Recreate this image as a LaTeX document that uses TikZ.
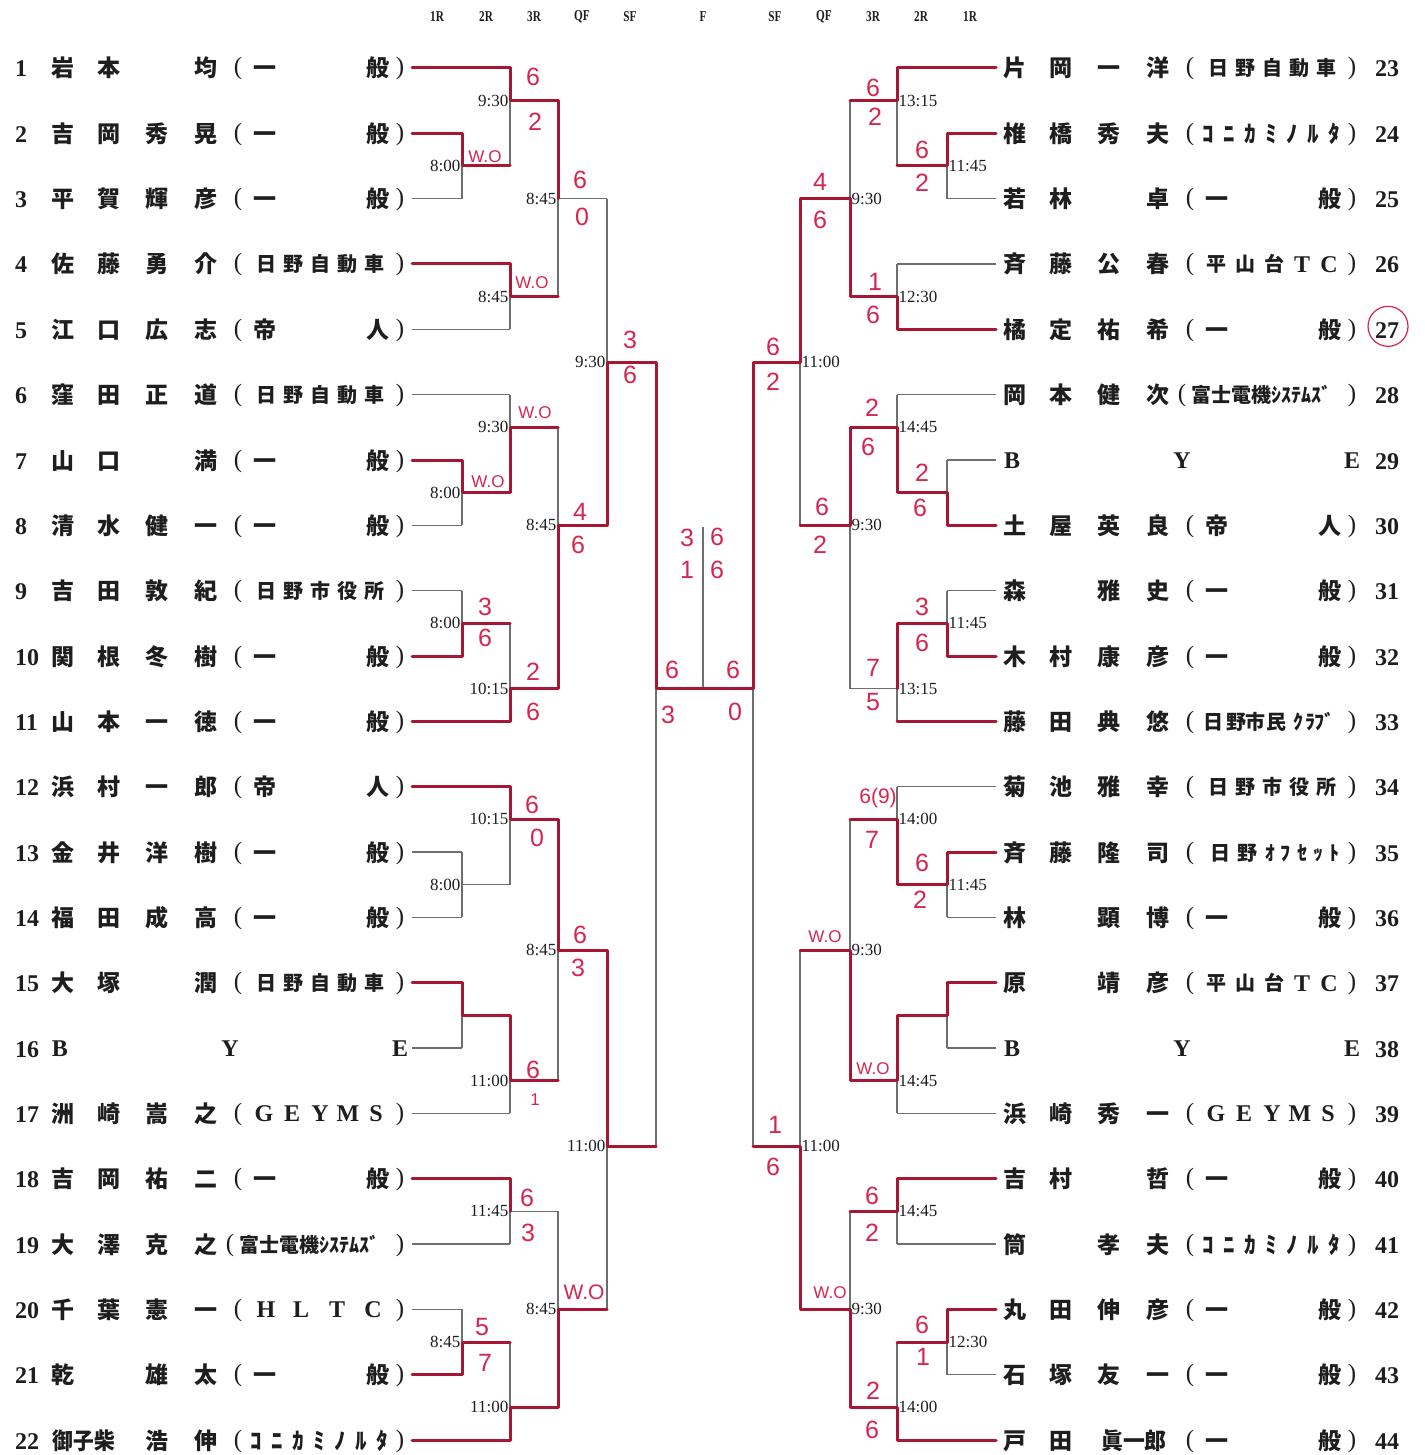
\documentclass[tikz,border=0pt]{standalone}
\usepackage{fontspec}
\usepackage{graphicx}
\setmainfont{Liberation Serif}
\newfontfamily\cjk{Noto Sans CJK JP}
\newfontfamily\handf{Liberation Sans}
\definecolor{rline}{RGB}{168,22,52}
\definecolor{rink}{RGB}{214,38,80}
\definecolor{gline}{RGB}{110,110,110}
\definecolor{ink}{RGB}{30,30,30}
\newcommand\Y[1]{(68+65.333*((#1)-1))}
\newcommand\fs[1]{\fontsize{#1}{#1}\selectfont}
\def\R{952}
\def\qA{63}\def\qB{109}\def\qC{157}\def\qD{206}
\tikzset{
  gl/.style={draw=gline,line width=1.2pt},
  rl/.style={draw=rline,line width=3pt,line join=round,line cap=round},
  cj/.style={font=\cjk\bfseries\fs{23},text=ink,anchor=base,inner sep=0pt},
  cjs/.style={font=\cjk\bfseries\fs{20},text=ink,anchor=base,inner sep=0pt},
  par/.style={font=\fs{25},text=ink,anchor=base,inner sep=0pt},
  lat/.style={font=\bfseries\fs{24},text=ink,anchor=base,inner sep=0pt},
  num/.style={font=\bfseries\fs{24},text=ink,anchor=base west,inner sep=0pt},
  tm/.style={font=\fs{17},text=ink,inner sep=1.5pt},
  hd/.style={font=\bfseries\fs{15},text=ink,inner sep=0pt},
  hw/.style={font=\handf\fs{25},text=rink,inner sep=0pt},
  hwm/.style={font=\handf\fs{21},text=rink,inner sep=0pt},
  hws/.style={font=\handf\fs{17},text=rink,inner sep=0pt},
}
% a match: name, x, top row, bottom row, output row, next x
\newcommand\mt[6]{%
  \coordinate (#1t) at (#2,{\Y{#3}});
  \coordinate (#1b) at (#2,{\Y{#4}});
  \coordinate (#1o) at (#2,{\Y{#5}});
  \coordinate (#1n) at (#6,{\Y{#5}});
  \draw[gl] (#1t) -- (#1b) (#1o) -- (#1n);}
% text pieces: id, baseline y, style, list x/char
\newcommand\tx[4]{\foreach \xx/\ch [count=\ii] in {#4}{\node[#3] (#1-\ii) at ({\xx},{#2}) {\ch};}}
\newcommand\pp[3]{\tx{#1p}{\Y{#2}+7}{par}{238+#3/(,400+#3/)}}
\newcommand\aG[3]{\pp{#1}{#2}{#3}\tx{#1a}{\Y{#2}+9}{cj}{265+#3/一,378+#3/般}}
\newcommand\aT[3]{\pp{#1}{#2}{#3}\tx{#1a}{\Y{#2}+9}{cj}{265+#3/帝,378+#3/人}}
\newcommand\aV[8]{\pp{#1}{#2}{#3}\tx{#1a}{\Y{#2}+8}{cjs}{266+#3/#4,293+#3/#5,320+#3/#6,347+#3/#7,374+#3/#8}}
\newcommand\aGE[3]{\pp{#1}{#2}{#3}\tx{#1a}{\Y{#2}+8.5}{lat}{264+#3/G,292+#3/E,320+#3/Y,348+#3/M,376+#3/S}}
\newcommand\aHL[3]{\pp{#1}{#2}{#3}\tx{#1a}{\Y{#2}+8.5}{lat}{266+#3/H,301+#3/L,337+#3/T,373+#3/C}}
\newcommand\aKo[3]{\pp{#1}{#2}{#3}\tx{#1a}{\Y{#2}+9}{cj}{256+#3/ｺ,277+#3/ﾆ,298+#3/ｶ,319+#3/ﾐ,340+#3/ﾉ,361+#3/ﾙ,382+#3/ﾀ}}
\newcommand\aFu[3]{\tx{#1p}{\Y{#2}+7}{par}{230+#3/(,400+#3/)}%
  \node[cjs,anchor=base west,font=\cjk\bfseries\fs{20}] (#1a) at ({239+#3},{\Y{#2}+8}) {富士電機ｼｽﾃﾑｽﾞ};}
\newcommand\aHT[3]{\pp{#1}{#2}{#3}\tx{#1a}{\Y{#2}+8}{cjs}{264+#3/平,293+#3/山,322+#3/台}\tx{#1b}{\Y{#2}+8.5}{lat}{350+#3/T,377+#3/C}}
\newcommand\bye[3]{\tx{#1}{\Y{#2}+8.5}{lat}{60+#3/B,230+#3/Y,400+#3/E}}
\newcommand\tl[2]{\node[tm,anchor=east] (t#1) at (#1o) {#2};}
\newcommand\tr[2]{\node[tm,anchor=west] (t#1) at (#1o) {#2};}
\begin{document}
\begin{tikzpicture}[x=1pt,y=-1pt]
\fill[white] (0,0) rectangle (1424,1455);
\useasboundingbox (0,0) rectangle (1424,1455);
\foreach \k in {1,...,22}{\coordinate (L\k) at (412,{\Y{\k}}); \coordinate (R\k) at (996,{\Y{\k}});}
% ---------- left bracket
\mt{M1}{462}{2}{3}{2.5}{510}
\mt{M2}{510}{1}{2.5}{1.5}{558}
\mt{M3}{510}{4}{5}{4.5}{558}
\mt{M4}{558}{1.5}{4.5}{3}{607}
\mt{M5}{462}{7}{8}{7.5}{510}
\mt{M6}{510}{6}{7.5}{6.5}{558}
\mt{M7}{462}{9}{10}{9.5}{510}
\mt{M8}{510}{9.5}{11}{10.5}{558}
\mt{M9}{558}{6.5}{10.5}{8}{607}
\mt{M10}{607}{3}{8}{5.5}{656}
\mt{M11}{462}{13}{14}{13.5}{510}
\mt{M12}{510}{12}{13.5}{12.5}{558}
\mt{M13}{462}{15}{16}{15.5}{510}
\mt{M14}{510}{15.5}{17}{16.5}{558}
\mt{M15}{558}{12.5}{16.5}{14.5}{607}
\mt{M16}{510}{18}{19}{18.5}{558}
\mt{M17}{462}{20}{21}{20.5}{510}
\mt{M18}{510}{20.5}{22}{21.5}{558}
\mt{M19}{558}{18.5}{21.5}{20}{607}
\mt{M20}{607}{14.5}{20}{17.5}{656}
\mt{M21}{656}{5.5}{17.5}{10.5}{703}
% ---------- right bracket
\mt{N1}{947}{2}{3}{2.5}{897}
\mt{N2}{897}{1}{2.5}{1.5}{850}
\mt{N3}{897}{4}{5}{4.5}{850}
\mt{N4}{850}{1.5}{4.5}{3}{800}
\mt{N5}{947}{7}{8}{7.5}{897}
\mt{N6}{897}{6}{7.5}{6.5}{850}
\mt{N7}{947}{9}{10}{9.5}{897}
\mt{N8}{897}{9.5}{11}{10.5}{850}
\mt{N9}{850}{6.5}{10.5}{8}{800}
\mt{N10}{800}{3}{8}{5.5}{753}
\mt{N11}{947}{13}{14}{13.5}{897}
\mt{N12}{897}{12}{13.5}{12.5}{850}
\mt{N13}{947}{15}{16}{15.5}{897}
\mt{N14}{897}{15.5}{17}{16.5}{850}
\mt{N15}{850}{12.5}{16.5}{14.5}{800}
\mt{N16}{897}{18}{19}{18.5}{850}
\mt{N17}{947}{20}{21}{20.5}{897}
\mt{N18}{897}{20.5}{22}{21.5}{850}
\mt{N19}{850}{18.5}{21.5}{20}{800}
\mt{N20}{800}{14.5}{20}{17.5}{753}
\mt{N21}{753}{5.5}{17.5}{10.5}{703}
\coordinate (Ft) at (703,527);
\draw[gl] (Ft) -- (M21n);
% ---------- entry lines
\draw[gl] (L1)--(M2t) (L2)--(M1t) (L3)--(M1b) (L4)--(M3t) (L5)--(M3b) (L6)--(M6t)
  (L7)--(M5t) (L8)--(M5b) (L9)--(M7t) (L10)--(M7b) (L11)--(M8b) (L12)--(M12t)
  (L13)--(M11t) (L14)--(M11b) (L15)--(M13t) (L16)--(M13b) (L17)--(M14b) (L18)--(M16t)
  (L19)--(M16b) (L20)--(M17t) (L21)--(M17b) (L22)--(M18b);
\draw[gl] (R1)--(N2t) (R2)--(N1t) (R3)--(N1b) (R4)--(N3t) (R5)--(N3b) (R6)--(N6t)
  (R7)--(N5t) (R8)--(N5b) (R9)--(N7t) (R10)--(N7b) (R11)--(N8b) (R12)--(N12t)
  (R13)--(N11t) (R14)--(N11b) (R15)--(N13t) (R16)--(N13b) (R17)--(N14b) (R18)--(N16t)
  (R19)--(N16b) (R20)--(N17t) (R21)--(N17b) (R22)--(N18b);
% ---------- winners (red)
\draw[rl] (L1) -- (M2t) -- (M2o) -- (M4t) -- (M4o);
\draw[rl] (L2) -- (M1t) -- (M1o) -- (M1n);
\draw[rl] (L4) -- (M3t) -- (M3o) -- (M3n);
\draw[rl] (L7) -- (M5t) -- (M5o) -- (M5n) -- (M6o) -- (M6n);
\draw[rl] (L10) -- (M7b) -- (M7o) -- (M7n);
\draw[rl] (L11) -- (M8b) -- (M8o) -- (M8n) -- (M9o) -- (M9n) -- (M10o) -- (M10n) -- (M21o) -- (M21n);
\draw[rl] (L12) -- (M12t) -- (M12o) -- (M12n) -- (M15o) -- (M15n) -- (M20o) -- (M20n);
\draw[rl] (L15) -- (M13t) -- (M13o) -- (M13n) -- (M14o) -- (M14n);
\draw[rl] (L18) -- (M16t) -- (M16o);
\draw[rl] (L21) -- (M17b) -- (M17o) -- (M17n);
\draw[rl] (L22) -- (M18b) -- (M18o) -- (M18n) -- (M19o) -- (M19n);
\draw[rl] (R1) -- (N2t) -- (N2o) -- (N2n);
\draw[rl] (R2) -- (N1t) -- (N1o) -- (N1n);
\draw[rl] (R5) -- (N3b) -- (N3o) -- (N3n) -- (N4o) -- (N4n) -- (N10o) -- (N10n) -- (N21o) -- (N21n);
\draw[rl] (R8) -- (N5b) -- (N5o) -- (N5n) -- (N6o) -- (N6n) -- (N9o) -- (N9n);
\draw[rl] (R10) -- (N7b) -- (N7o) -- (N7n) -- (N8o);
\draw[rl] (R11) -- (N8b);
\draw[rl] (R13) -- (N11t) -- (N11o) -- (N11n) -- (N12o) -- (N12n);
\draw[rl] (R15) -- (N13t) -- (N13o) -- (N13n) -- (N14o) -- (N14n) -- (N15o) -- (N15n);
\draw[rl] (R18) -- (N16t) -- (N16o) -- (N16n);
\draw[rl] (R20) -- (N17t) -- (N17o) -- (N17n);
\draw[rl] (R22) -- (N18b) -- (N18o) -- (N18n) -- (N19o) -- (N19n) -- (N20o) -- (N20n);
% ---------- times
\tl{M1}{8:00}\tl{M2}{9:30}\tl{M3}{8:45}\tl{M4}{8:45}\tl{M5}{8:00}\tl{M6}{9:30}
\tl{M7}{8:00}\tl{M8}{10:15}\tl{M9}{8:45}\tl{M10}{9:30}\tl{M11}{8:00}\tl{M12}{10:15}
\tl{M14}{11:00}\tl{M15}{8:45}\tl{M16}{11:45}\tl{M17}{8:45}\tl{M18}{11:00}\tl{M19}{8:45}\tl{M20}{11:00}
\tr{N1}{11:45}\tr{N2}{13:15}\tr{N3}{12:30}\tr{N4}{9:30}\tr{N6}{14:45}\tr{N7}{11:45}
\tr{N8}{13:15}\tr{N9}{9:30}\tr{N10}{11:00}\tr{N11}{11:45}\tr{N12}{14:00}\tr{N14}{14:45}
\tr{N15}{9:30}\tr{N16}{14:45}\tr{N17}{12:30}\tr{N18}{14:00}\tr{N19}{9:30}\tr{N20}{11:00}
% ---------- headers
\tx{hd}{17}{hd}{437/\scalebox{0.75}[1]{1R},486/\scalebox{0.75}[1]{2R},534/\scalebox{0.75}[1]{3R},582/\scalebox{0.75}[1]{QF},630/\scalebox{0.75}[1]{SF},703/\scalebox{0.75}[1]{F},775/\scalebox{0.75}[1]{SF},824/\scalebox{0.75}[1]{QF},873/\scalebox{0.75}[1]{3R},921/\scalebox{0.75}[1]{2R},970/\scalebox{0.75}[1]{1R}}
% ---------- left players
\foreach \k in {1,...,22}{\node[num] (nl\k) at (15,{\Y{\k}+9}) {\k};}
\tx{a1}{\Y{1}+9}{cj}{\qA/岩,\qB/本,\qD/均}\aG{f1}{1}{0}
\tx{a2}{\Y{2}+9}{cj}{\qA/吉,\qB/岡,\qC/秀,\qD/晃}\aG{f2}{2}{0}
\tx{a3}{\Y{3}+9}{cj}{\qA/平,\qB/賀,\qC/輝,\qD/彦}\aG{f3}{3}{0}
\tx{a4}{\Y{4}+9}{cj}{\qA/佐,\qB/藤,\qC/勇,\qD/介}\aV{f4}{4}{0}{日}{野}{自}{動}{車}
\tx{a5}{\Y{5}+9}{cj}{\qA/江,\qB/口,\qC/広,\qD/志}\aT{f5}{5}{0}
\tx{a6}{\Y{6}+9}{cj}{\qA/窪,\qB/田,\qC/正,\qD/道}\aV{f6}{6}{0}{日}{野}{自}{動}{車}
\tx{a7}{\Y{7}+9}{cj}{\qA/山,\qB/口,\qD/満}\aG{f7}{7}{0}
\tx{a8}{\Y{8}+9}{cj}{\qA/清,\qB/水,\qC/健,\qD/一}\aG{f8}{8}{0}
\tx{a9}{\Y{9}+9}{cj}{\qA/吉,\qB/田,\qC/敦,\qD/紀}\aV{f9}{9}{0}{日}{野}{市}{役}{所}
\tx{a10}{\Y{10}+9}{cj}{\qA/関,\qB/根,\qC/冬,\qD/樹}\aG{f10}{10}{0}
\tx{a11}{\Y{11}+9}{cj}{\qA/山,\qB/本,\qC/一,\qD/徳}\aG{f11}{11}{0}
\tx{a12}{\Y{12}+9}{cj}{\qA/浜,\qB/村,\qC/一,\qD/郎}\aT{f12}{12}{0}
\tx{a13}{\Y{13}+9}{cj}{\qA/金,\qB/井,\qC/洋,\qD/樹}\aG{f13}{13}{0}
\tx{a14}{\Y{14}+9}{cj}{\qA/福,\qB/田,\qC/成,\qD/高}\aG{f14}{14}{0}
\tx{a15}{\Y{15}+9}{cj}{\qA/大,\qB/塚,\qD/潤}\aV{f15}{15}{0}{日}{野}{自}{動}{車}
\bye{a16}{16}{0}
\tx{a17}{\Y{17}+9}{cj}{\qA/洲,\qB/崎,\qC/嵩,\qD/之}\aGE{f17}{17}{0}
\tx{a18}{\Y{18}+9}{cj}{\qA/吉,\qB/岡,\qC/祐,\qD/二}\aG{f18}{18}{0}
\tx{a19}{\Y{19}+9}{cj}{\qA/大,\qB/澤,\qC/克,\qD/之}\aFu{f19}{19}{0}
\tx{a20}{\Y{20}+9}{cj}{\qA/千,\qB/葉,\qC/憲,\qD/一}\aHL{f20}{20}{0}
\tx{a21}{\Y{21}+9}{cj}{\qA/乾,\qC/雄,\qD/太}\aG{f21}{21}{0}
\node[cj] (a22-1) at (84,{\Y{22}+9}) {\scalebox{0.9}[1]{御子柴}};
\tx{a22}{\Y{22}+9}{cj}{\qC/浩,\qD/伸}\aKo{f22}{22}{0}
% ---------- right players
\foreach \k [evaluate=\k as \n using int(\k+22)] in {1,...,22}{\node[num] (nr\k) at (1375,{\Y{\k}+9}) {\n};}
\tx{b1}{\Y{1}+9}{cj}{\qA+\R/片,\qB+\R/岡,\qC+\R/一,\qD+\R/洋}\aV{g1}{1}{\R}{日}{野}{自}{動}{車}
\tx{b2}{\Y{2}+9}{cj}{\qA+\R/椎,\qB+\R/橋,\qC+\R/秀,\qD+\R/夫}\aKo{g2}{2}{\R}
\tx{b3}{\Y{3}+9}{cj}{\qA+\R/若,\qB+\R/林,\qD+\R/卓}\aG{g3}{3}{\R}
\tx{b4}{\Y{4}+9}{cj}{\qA+\R/斉,\qB+\R/藤,\qC+\R/公,\qD+\R/春}\aHT{g4}{4}{\R}
\tx{b5}{\Y{5}+9}{cj}{\qA+\R/橘,\qB+\R/定,\qC+\R/祐,\qD+\R/希}\aG{g5}{5}{\R}
\tx{b6}{\Y{6}+9}{cj}{\qA+\R/岡,\qB+\R/本,\qC+\R/健,\qD+\R/次}\aFu{g6}{6}{\R}
\bye{b7}{7}{\R}
\tx{b8}{\Y{8}+9}{cj}{\qA+\R/土,\qB+\R/屋,\qC+\R/英,\qD+\R/良}\aT{g8}{8}{\R}
\tx{b9}{\Y{9}+9}{cj}{\qA+\R/森,\qC+\R/雅,\qD+\R/史}\aG{g9}{9}{\R}
\tx{b10}{\Y{10}+9}{cj}{\qA+\R/木,\qB+\R/村,\qC+\R/康,\qD+\R/彦}\aG{g10}{10}{\R}
\tx{b11}{\Y{11}+9}{cj}{\qA+\R/藤,\qB+\R/田,\qC+\R/典,\qD+\R/悠}\pp{g11}{11}{\R}
\tx{g11a}{\Y{11}+8}{cjs}{1213/日,1236/野,1255/市,1276/民,1298/ｸ,1310/ﾗ,1324/ﾌﾞ}
\tx{b12}{\Y{12}+9}{cj}{\qA+\R/菊,\qB+\R/池,\qC+\R/雅,\qD+\R/幸}\aV{g12}{12}{\R}{日}{野}{市}{役}{所}
\tx{b13}{\Y{13}+9}{cj}{\qA+\R/斉,\qB+\R/藤,\qC+\R/隆,\qD+\R/司}\pp{g13}{13}{\R}
\tx{g13a}{\Y{13}+8}{cjs}{1220/日,1247/野,1270/ｵ,1285/ﾌ,1302/ｾ,1318/ｯ,1334/ﾄ}
\tx{b14}{\Y{14}+9}{cj}{\qA+\R/林,\qC+\R/顕,\qD+\R/博}\aG{g14}{14}{\R}
\tx{b15}{\Y{15}+9}{cj}{\qA+\R/原,\qC+\R/靖,\qD+\R/彦}\aHT{g15}{15}{\R}
\bye{b16}{16}{\R}
\tx{b17}{\Y{17}+9}{cj}{\qA+\R/浜,\qB+\R/崎,\qC+\R/秀,\qD+\R/一}\aGE{g17}{17}{\R}
\tx{b18}{\Y{18}+9}{cj}{\qA+\R/吉,\qB+\R/村,\qD+\R/哲}\aG{g18}{18}{\R}
\tx{b19}{\Y{19}+9}{cj}{\qA+\R/筒,\qC+\R/孝,\qD+\R/夫}\aKo{g19}{19}{\R}
\tx{b20}{\Y{20}+9}{cj}{\qA+\R/丸,\qB+\R/田,\qC+\R/伸,\qD+\R/彦}\aG{g20}{20}{\R}
\tx{b21}{\Y{21}+9}{cj}{\qA+\R/石,\qB+\R/塚,\qC+\R/友,\qD+\R/一}\aG{g21}{21}{\R}
\tx{b22}{\Y{22}+9}{cj}{\qA+\R/戸,\qB+\R/田}\aG{g22}{22}{\R}
\node[cj] (b22-x) at (1134,{\Y{22}+9}) {\scalebox{0.95}[1]{眞一郎}};
\node[circle,draw=rink,line width=1.2pt,minimum size=40pt,inner sep=0pt] (c27) at (1388,{\Y{5}-3}) {};
% ---------- handwritten scores
\node[hw] (s1) at (533,77) {6};   \node[hw] (s2) at (535,122) {2};
\node[hws] (s3) at (485,157) {W.O};
\node[hw] (s4) at (580,180) {6};  \node[hw] (s5) at (582,217) {0};
\node[hws] (s6) at (532,283) {W.O};
\node[hw] (s7) at (630,340) {3};  \node[hw] (s8) at (630,375) {6};
\node[hws] (s9) at (535,413) {W.O};
\node[hws] (s10) at (488,482) {W.O};
\node[hw] (s11) at (580,512) {4}; \node[hw] (s12) at (578,545) {6};
\node[hw] (s13) at (485,607) {3}; \node[hw] (s14) at (485,638) {6};
\node[hw] (s15) at (533,672) {2}; \node[hw] (s16) at (533,712) {6};
\node[hw] (s17) at (532,805) {6}; \node[hw] (s18) at (537,838) {0};
\node[hw] (s19) at (580,935) {6}; \node[hw] (s20) at (578,968) {3};
\node[hw] (s21) at (533,1070) {6}; \node[hws] (s22) at (535,1100) {1};
\node[hw] (s23) at (527,1198) {6}; \node[hw] (s24) at (528,1233) {3};
\node[hwm] (s25) at (584,1292) {W.O};
\node[hw] (s26) at (482,1327) {5}; \node[hw] (s27) at (485,1363) {7};
\node[hw] (s28) at (672,670) {6}; \node[hw] (s29) at (668,715) {3};
\node[hw] (s30) at (687,538) {3}; \node[hw] (s31) at (717,537) {6};
\node[hw] (s32) at (687,570) {1}; \node[hw] (s33) at (717,570) {6};
\node[hw] (s34) at (733,670) {6}; \node[hw] (s35) at (735,712) {0};
\node[hw] (s36) at (773,347) {6}; \node[hw] (s37) at (773,382) {2};
\node[hw] (s38) at (873,88) {6};  \node[hw] (s39) at (875,117) {2};
\node[hw] (s40) at (922,150) {6}; \node[hw] (s41) at (922,183) {2};
\node[hw] (s42) at (820,182) {4}; \node[hw] (s43) at (820,220) {6};
\node[hw] (s44) at (875,282) {1}; \node[hw] (s45) at (873,315) {6};
\node[hw] (s46) at (872,408) {2}; \node[hw] (s47) at (868,447) {6};
\node[hw] (s48) at (922,473) {2}; \node[hw] (s49) at (920,508) {6};
\node[hw] (s50) at (822,507) {6}; \node[hw] (s51) at (820,545) {2};
\node[hw] (s52) at (922,607) {3}; \node[hw] (s53) at (922,643) {6};
\node[hw] (s54) at (873,668) {7}; \node[hw] (s55) at (873,702) {5};
\node[hwm] (s56) at (878,798) {6(9)}; \node[hw] (s57) at (872,840) {7};
\node[hw] (s58) at (922,863) {6}; \node[hw] (s59) at (920,900) {2};
\node[hws] (s60) at (825,937) {W.O};
\node[hws] (s61) at (873,1069) {W.O};
\node[hw] (s62) at (775,1125) {1}; \node[hw] (s63) at (773,1167) {6};
\node[hw] (s64) at (872,1196) {6}; \node[hw] (s65) at (872,1233) {2};
\node[hws] (s66) at (830,1293) {W.O};
\node[hw] (s67) at (922,1325) {6}; \node[hw] (s68) at (923,1357) {1};
\node[hw] (s69) at (873,1391) {2}; \node[hw] (s70) at (872,1430) {6};
\end{tikzpicture}
\end{document}
